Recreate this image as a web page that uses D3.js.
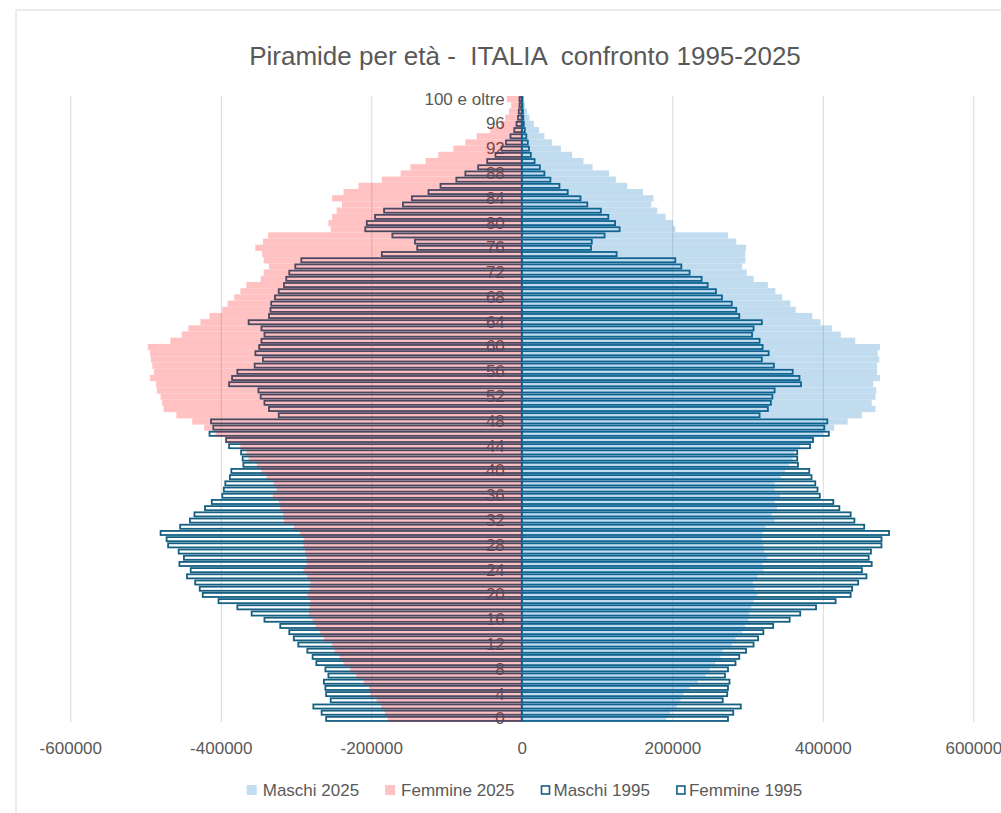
<!DOCTYPE html>
<html>
<head>
<meta charset="utf-8">
<script src="https://cdn.jsdelivr.net/npm/d3@7"></script>
<style>
  body { margin: 0; background: #fff; }
  svg { display: block; font-family: "Liberation Sans", Arial, sans-serif; }
</style>
</head>
<body>
<div id="chart"></div>
<script>
// eta' 0..100 ("100 e oltre")
var ages = d3.range(0, 101);
var ageLabels = ages.map(function(a) { return a === 100 ? "100 e oltre" : String(a); });

// valori, indice = eta'
var maschi2025 = [192000,197000,206000,211000,215000,223000,234000,244000,250000,257000,
  264000,267000,279000,284000,293000,297000,301000,302000,305000,308000,
  313000,309000,307000,313000,321000,320000,326000,322000,321000,319000,
  320000,324000,336000,332000,339000,336000,343000,336000,336000,344000,
  350000,355000,360000,362000,370000,388000,400000,415000,433000,452000,
  470000,465000,470000,471000,467000,476000,472000,472000,475000,473000,
  476000,443000,424000,412000,397000,386000,364000,357000,346000,337000,
  327000,308000,299000,293000,297000,297000,298000,285000,274000,204000,
  201000,191000,180000,172000,175000,161000,140000,125000,116000,94000,
  82000,67000,52000,40000,30000,23000,16000,10000,7000,4000,3000];

var femmine2025 = [178000,182000,187000,193000,201000,203000,210000,220000,228000,237000,
  242000,249000,252000,263000,268000,274000,278000,283000,282000,281000,
  285000,282000,281000,285000,290000,286000,286000,288000,290000,290000,
  295000,303000,316000,317000,321000,323000,331000,326000,330000,339000,
  346000,352000,363000,366000,374000,394000,407000,422000,438000,459000,
  476000,478000,480000,485000,486000,494000,489000,491000,493000,494000,
  497000,467000,452000,443000,427000,415000,398000,391000,382000,374000,
  366000,347000,343000,336000,343000,345000,354000,344000,337000,254000,
  257000,252000,246000,239000,252000,237000,217000,186000,161000,148000,
  128000,111000,91000,75000,60000,42000,28000,22000,17000,14000,20000];

var maschi1995 = [274000,281000,291000,267000,273000,274000,276000,270000,274000,284000,
  289000,298000,308000,314000,321000,334000,356000,370000,391000,417000,
  437000,439000,447000,458000,452000,465000,461000,464000,478000,478000,
  488000,455000,442000,437000,422000,414000,396000,393000,390000,385000,
  382000,367000,366000,366000,383000,387000,408000,402000,406000,316000,
  327000,331000,333000,336000,371000,369000,360000,335000,319000,328000,
  320000,316000,306000,308000,319000,289000,285000,279000,266000,258000,
  247000,239000,223000,212000,204000,126000,92000,93000,110000,130000,
  124000,115000,105000,87000,78000,61000,50000,38000,30000,24000,
  17000,12000,9500,8000,6000,4000,2700,2000,1500,1000,800];

var femmine1995 = [260000,266000,277000,254000,260000,261000,263000,257000,261000,273000,
  278000,285000,297000,303000,309000,321000,342000,359000,378000,403000,
  424000,428000,434000,445000,440000,455000,449000,456000,470000,472000,
  480000,454000,441000,435000,421000,412000,398000,396000,394000,388000,
  386000,370000,371000,373000,389000,393000,415000,410000,413000,323000,
  336000,342000,347000,350000,389000,385000,378000,355000,344000,354000,
  349000,346000,342000,346000,363000,336000,334000,333000,328000,323000,
  316000,313000,309000,301000,293000,186000,139000,142000,172000,208000,
  206000,195000,183000,158000,146000,124000,108000,87000,75000,58000,
  46000,35000,27000,21000,15000,10000,7000,5000,4000,3000,3000];

var xTicks = [-600000, -400000, -200000, 0, 200000, 400000, 600000];
var yTickLabels = ageLabels.filter(function(d, i) { return i % 4 === 0; });

var legendItems = [
  { name: "Maschi 2025", type: "fill", color: "#0070C0" },
  { name: "Femmine 2025", type: "fill", color: "#FF0000" },
  { name: "Maschi 1995", type: "line", color: "#156082" },
  { name: "Femmine 1995", type: "line", color: "#156082" }
];

var W = 1001, H = 813;
var plot = { left: 70.3, right: 973.3, top: 96, bottom: 722 };
var textColor = "#595959";

var svg = d3.select("#chart").append("svg")
    .attr("width", W)
    .attr("height", H);

// cornice del grafico
svg.append("rect")
    .attr("x", 16).attr("y", 10)
    .attr("width", W).attr("height", H)
    .attr("fill", "none")
    .attr("stroke", "#D9D9D9");

svg.append("text")
    .attr("x", 525)
    .attr("y", 65)
    .attr("text-anchor", "middle")
    .style("font-size", "26px")
    .style("white-space", "pre")
    .attr("fill", textColor)
    .text("Piramide per età -  ITALIA  confronto 1995-2025");

var x = d3.scaleLinear().domain([-600000, 600000]).range([plot.left, plot.right]);
var y = d3.scaleBand().domain(ageLabels.slice().reverse()).range([plot.top, plot.bottom]).padding(0);

// griglia verticale
var grid = svg.append("g")
    .attr("transform", "translate(0," + plot.bottom + ")")
    .call(d3.axisBottom(x).tickValues(xTicks).tickSize(-(plot.bottom - plot.top)).tickFormat(""));
grid.select(".domain").remove();
grid.selectAll("line").attr("stroke", "#D9D9D9").attr("stroke-width", 1);

// asse x
var xAxis = svg.append("g")
    .attr("transform", "translate(0," + (plot.bottom + 20) + ")")
    .call(d3.axisBottom(x).tickValues(xTicks).tickSize(0).tickPadding(0)
      .tickFormat(function(d) { return String(d); }));
xAxis.select(".domain").remove();
xAxis.selectAll("text")
    .attr("fill", textColor)
    .attr("dy", "0.71em")
    .style("font-size", "17px")
    .style("font-family", "Liberation Sans, Arial, sans-serif");

// etichette eta' (sotto le barre)
var yAxis = svg.append("g")
    .attr("transform", "translate(" + x(0) + ",0)")
    .call(d3.axisLeft(y).tickValues(yTickLabels).tickSize(0).tickPadding(17));
yAxis.select(".domain").remove();
yAxis.selectAll("text")
    .attr("fill", textColor)
    .style("font-size", "17px")
    .style("font-family", "Liberation Sans, Arial, sans-serif");

// 1995: solo contorno
var bh = y.bandwidth() * 0.66;
var off = (y.bandwidth() - bh) / 2;

function outlineBars(values, sign) {
  svg.append("g").selectAll("rect")
    .data(values)
    .enter().append("rect")
    .attr("x", function(d) { return sign < 0 ? x(-d) : x(0); })
    .attr("y", function(d, i) { return y(ageLabels[i]) + off; })
    .attr("width", function(d) { return Math.abs(x(d) - x(0)); })
    .attr("height", bh)
    .attr("fill", "none")
    .attr("stroke", "#156082")
    .attr("stroke-width", 1.8);
}
outlineBars(femmine1995, -1);
outlineBars(maschi1995, 1);

// 2025: barre piene trasparenti
function fillBars(values, sign, color) {
  svg.append("g")
    .attr("opacity", 0.24)
    .selectAll("rect")
    .data(values)
    .enter().append("rect")
    .attr("x", function(d) { return sign < 0 ? x(-d) : x(0); })
    .attr("y", function(d, i) { return y(ageLabels[i]); })
    .attr("width", function(d) { return Math.abs(x(d) - x(0)); })
    .attr("height", y.bandwidth() + 0.05)
    .attr("fill", color);
}
fillBars(femmine2025, -1, "#FF0000");
fillBars(maschi2025, 1, "#0070C0");

// legenda
var legend = svg.append("g").attr("transform", "translate(0,790)");
var lx = 0;
var items = legend.selectAll("g")
    .data(legendItems)
    .enter().append("g");
items.each(function(d) {
  var g = d3.select(this);
  if (d.type === "fill") {
    g.append("rect").attr("x", 0).attr("y", -5).attr("width", 10).attr("height", 10)
      .attr("fill", d.color).attr("opacity", 0.24);
  } else {
    g.append("rect").attr("x", 1).attr("y", -4).attr("width", 8).attr("height", 8)
      .attr("fill", "#fff").attr("stroke", d.color).attr("stroke-width", 1.6);
  }
  var t = g.append("text")
    .attr("x", d.type === "fill" ? 16 : 13)
    .attr("dy", "0.35em")
    .attr("fill", textColor)
    .style("font-size", "17px")
    .text(d.name);
  var w = (d.type === "fill" ? 16 : 13) + t.node().getComputedTextLength();
  g.attr("transform", "translate(" + lx + ",0)");
  lx += w + 26;
});
var legendW = lx - 26;
legend.attr("transform", "translate(" + (524.5 - legendW / 2) + ",790)");
</script>
</body>
</html>
